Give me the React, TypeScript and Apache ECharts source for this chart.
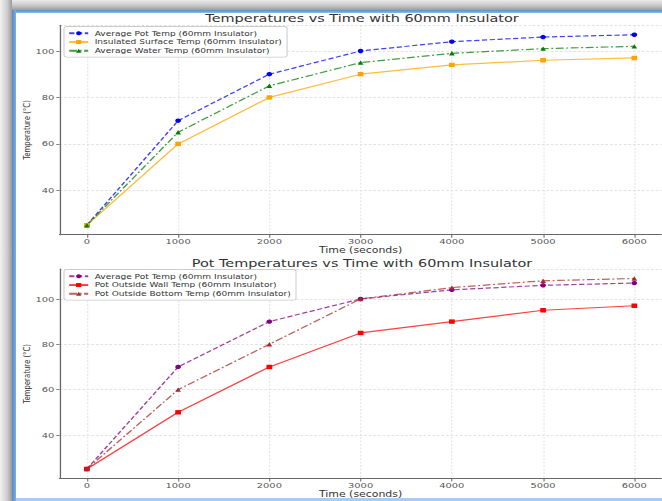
import React, { useEffect, useRef } from "react";
import * as echarts from "echarts";

// ---- data ----
const timeSeconds = [0, 1000, 2000, 3000, 4000, 5000, 6000];
const avgPotTemp = [25, 70, 90, 100, 104, 106, 107];
const insulatedSurfaceTemp = [25, 60, 80, 90, 94, 96, 97];
const avgWaterTemp = [25, 65, 85, 95, 99, 101, 102];
const potOutsideWallTemp = [25, 50, 70, 85, 90, 95, 97];
const potOutsideBottomTemp = [25, 60, 80, 100, 105, 108, 109];
const xTickValues = [0, 1000, 2000, 3000, 4000, 5000, 6000];
const yTickValues = [40, 60, 80, 100];

const topTitle = "Temperatures vs Time with 60mm Insulator";
const bottomTitle = "Pot Temperatures vs Time with 60mm Insulator";
const xName = "Time (seconds)";
const yName = "Temperature (°C)";
const nameAvgPot = "Average Pot Temp (60mm Insulator)";
const nameSurface = "Insulated Surface Temp (60mm Insulator)";
const nameWater = "Average Water Temp (60mm Insulator)";
const nameWall = "Pot Outside Wall Temp (60mm Insulator)";
const nameBottom = "Pot Outside Bottom Temp (60mm Insulator)";
const SUFFIX = "#2";

// ---- layout (page px divided by horizontal stretch) ----
const S = 1.3;
const W = 662 / S;
const cx = (p: number) => p / S;
const FONT = "DejaVu Sans";

function mkSeries(
  name: string,
  values: number[],
  color: string,
  dash: any,
  symbol: string,
  gi: number
) {
  return {
    type: "line",
    name,
    xAxisIndex: gi,
    yAxisIndex: gi,
    data: timeSeconds.map((t, i) => [t, values[i]]),
    symbol,
    symbolSize: 4.4,
    showSymbol: true,
    lineStyle: { color, width: 1.2, type: dash, opacity: 0.75 },
    itemStyle: { color },
    emphasis: { disabled: true },
  };
}

function mkX(gi: number) {
  return {
    type: "value",
    gridIndex: gi,
    min: -300,
    max: 6300,
    splitNumber: 5,
    axisLine: { show: true, onZero: false, lineStyle: { color: "#666", width: 1 } },
    axisTick: { show: true, length: 3, lineStyle: { color: "#666", width: 0.8 } },
    axisLabel: {
      color: "#555",
      fontSize: 7.6,
      fontFamily: FONT,
      margin: 2.5,
      showMinLabel: false,
      showMaxLabel: false,
      formatter: (v: number) => (xTickValues.includes(v) ? String(v) : ""),
    },
    splitLine: { show: true, lineStyle: { color: "#e2e2e2", width: 0.8, type: [2, 1.5] } },
    name: xName,
    nameLocation: "middle",
    nameGap: 11,
    nameMoveOverlap: false,
    nameTextStyle: { color: "#333", fontSize: 8.4, fontFamily: FONT },
  };
}

function mkY(gi: number, min: number, max: number) {
  return {
    type: "value",
    gridIndex: gi,
    min,
    max,
    splitNumber: 5,
    axisLine: { show: true, onZero: false, lineStyle: { color: "#666", width: 1 } },
    axisTick: { show: true, length: 2.5, lineStyle: { color: "#666", width: 0.8 } },
    axisLabel: {
      color: "#555",
      fontSize: 7.6,
      fontFamily: FONT,
      margin: 4,
      showMinLabel: false,
      showMaxLabel: false,
      formatter: (v: number) => (yTickValues.includes(v) ? String(v) : ""),
    },
    splitLine: { show: true, lineStyle: { color: "#e2e2e2", width: 0.8, type: [2, 1.5] } },
    name: yName,
    nameLocation: "middle",
    nameGap: 21,
    nameMoveOverlap: false,
    nameTextStyle: { color: "#333", fontSize: 6.9, fontFamily: FONT },
  };
}

function mkLegend(names: string[], top: number) {
  return {
    show: true,
    orient: "vertical",
    left: cx(64),
    top,
    data: names,
    itemWidth: cx(19),
    itemHeight: 5,
    itemGap: 0,
    padding: [2.5, 4, 2, 3],
    backgroundColor: "rgba(255,255,255,0.85)",
    borderColor: "#cccccc",
    borderWidth: 0.8,
    borderRadius: 2,
    selectedMode: false,
    formatter: (n: string) => n.replace(SUFFIX, ""),
    textStyle: { color: "#333", fontSize: 6.95, fontFamily: FONT, lineHeight: 8.7 },
  };
}

const option: any = {
  animation: false,
  backgroundColor: "transparent",
  grid: [
    { left: cx(59.5), width: cx(605), top: 25.2, height: 209.5 },
    { left: cx(59.5), width: cx(605), top: 269, height: 209.5 },
  ],
  xAxis: [mkX(0), mkX(1)],
  yAxis: [mkY(0, 20.9, 111.1), mkY(1, 20.8, 113.2)],
  legend: [
    mkLegend([nameAvgPot, nameSurface, nameWater], 26.5),
    mkLegend([nameAvgPot + SUFFIX, nameWall, nameBottom], 269.5),
  ],
  graphic: [
    {
      type: "text",
      x: cx(362),
      y: 18,
      style: {
        text: topTitle,
        fill: "#333",
        font: `11.1px "${FONT}"`,
        textAlign: "center",
        textVerticalAlign: "middle",
      },
    },
    {
      type: "text",
      x: cx(362),
      y: 262.7,
      style: {
        text: bottomTitle,
        fill: "#333",
        font: `11.1px "${FONT}"`,
        textAlign: "center",
        textVerticalAlign: "middle",
      },
    },
  ],
  series: [
    mkSeries(nameAvgPot, avgPotTemp, "#0000ff", [4, 2], "circle", 0),
    mkSeries(nameSurface, insulatedSurfaceTemp, "#ffa500", "solid", "rect", 0),
    mkSeries(nameWater, avgWaterTemp, "#008000", [6, 2, 1.5, 2], "triangle", 0),
    mkSeries(nameAvgPot + SUFFIX, avgPotTemp, "#800080", [4, 2], "circle", 1),
    mkSeries(nameWall, potOutsideWallTemp, "#ff0000", "solid", "rect", 1),
    mkSeries(nameBottom, potOutsideBottomTemp, "#a52a2a", [6, 2, 1.5, 2], "triangle", 1),
  ],
};

export default function App() {
  const ref = useRef<HTMLDivElement>(null);
  useEffect(() => {
    if (!ref.current) return;
    const chart = echarts.init(ref.current, undefined, { renderer: "svg" });
    chart.setOption(option);
    return () => chart.dispose();
  }, []);
  const abs = (s: any) => ({ position: "absolute" as const, pointerEvents: "none" as const, ...s });
  return (
    <div
      style={{
        position: "fixed",
        left: 0,
        top: 0,
        width: 662,
        height: 501,
        overflow: "hidden",
        background: "#ffffff",
      }}
    >
      <div
        ref={ref}
        style={{
          position: "absolute",
          left: 0,
          top: 0,
          width: W,
          height: 501,
          transform: `scaleX(${S})`,
          transformOrigin: "0 0",
        }}
      />
      <div style={abs({ left: 0, top: 0, width: 662, height: 10, background: "linear-gradient(to bottom, #ececec, #c4c4c4 60%, #9c9c9c)" })} />
      <div style={abs({ left: 0, top: 0, width: 12, height: 501, background: "linear-gradient(to right, #f2f2f2, #cdcdcd 60%, #9a9a9a)" })} />
      <div style={abs({ left: 12, top: 10, width: 650, height: 3, background: "linear-gradient(to bottom, #5b8ec9, #8cb9e6)" })} />
      <div style={abs({ left: 12, top: 10, width: 3.5, height: 491, background: "linear-gradient(to right, #5688c3, #7fb0e2)" })} />
      <div style={abs({ left: 15.5, top: 498, width: 647, height: 3, background: "#a8cdf2" })} />
    </div>
  );
}
